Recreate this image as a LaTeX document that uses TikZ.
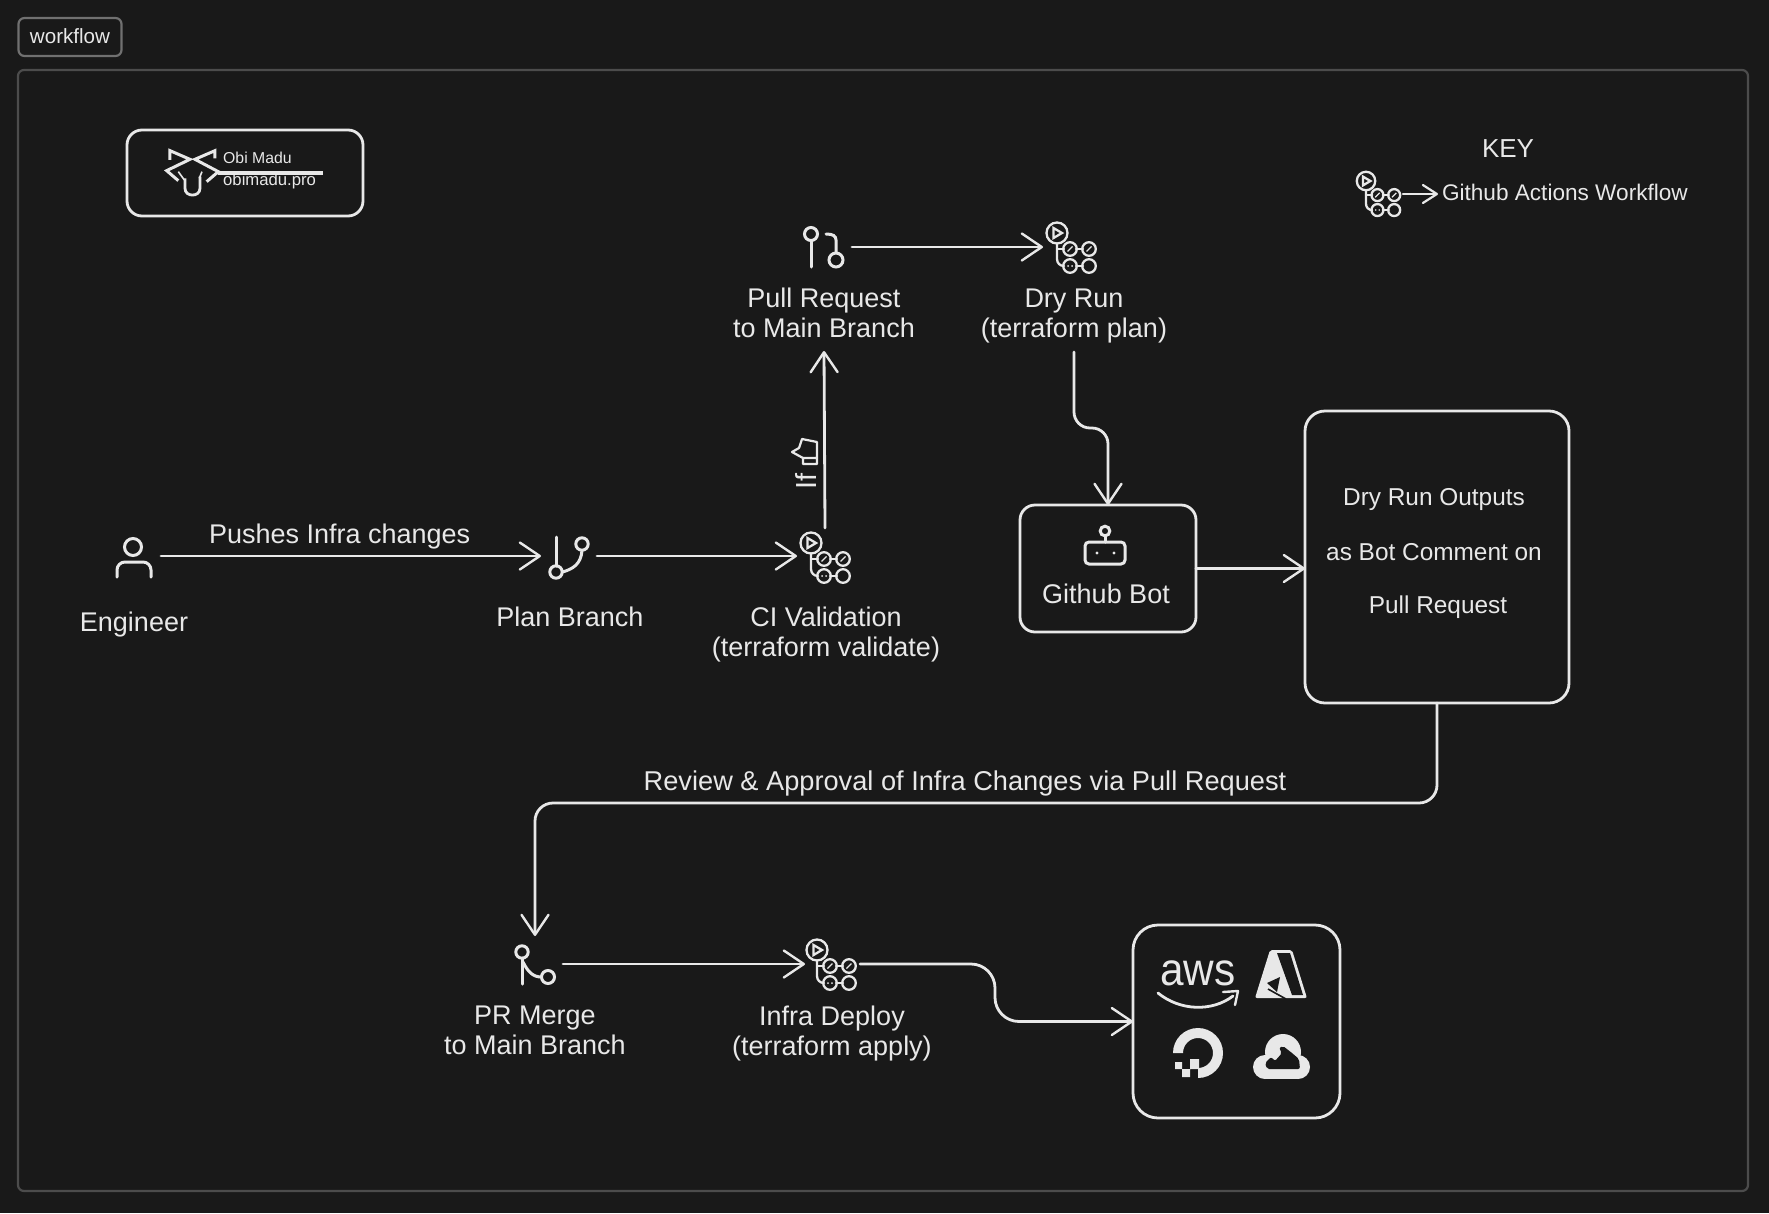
\documentclass[tikz,border=0pt]{standalone}
\usepackage{fontspec}
\setmainfont{Liberation Sans}
\usetikzlibrary{arrows.meta,calc}
\usetikzlibrary{positioning}
\definecolor{canvas}{HTML}{191919}
\definecolor{ink}{HTML}{E8E8E8}
\definecolor{badgeline}{HTML}{707070}
\definecolor{frameline}{HTML}{4C4C4C}
\tikzset{
>={Straight Barb[length=20pt,width=27pt,line width=2.4pt,round]}, % open hand drawn tip
flow/.style={->,ink,line width=2.8pt,line cap=round,line join=round},
iconspot/.style={inner sep=0pt,outer sep=0pt},
iconline/.style={ink,line width=3pt,line cap=round},
thinline/.style={ink,line width=2.3pt,line cap=round},
panel/.style={draw=ink,line width=2.8pt,rounded corners=15pt,inner sep=0pt,outer sep=0pt},
ghaicon/.pic={
  \draw[thinline] (0,0) circle (10.5);
  \draw[thinline] (-3.5,-5) -- (5,0) -- (-3.5,5) -- cycle;
  \draw[thinline] (0,10.5) -- (0,26) .. controls (0,30) and (3,33) .. (7,33);
  \draw[thinline] (0,16) -- (7,16);
  \draw[thinline] (19,16) -- (26,16);
  \draw[thinline] (19,33) -- (26,33);
  \foreach \spot in {(13,16),(32,16),(13,33),(32,33)}
    \draw[thinline] \spot circle (6.8);
  \draw[ink,line width=1.2pt] (10.5,18.5) -- (15.5,13.5);
  \draw[ink,line width=1.2pt] (29.5,18.5) -- (34.5,13.5);
  \fill[ink] (11,33) circle (1) (15,33) circle (1);
},
}
\tikzstyle{steplabel}=[text=ink,align=center,font=\fontsize{27}{30}\selectfont,inner sep=0pt,outer sep=0pt]
\tikzstyle{outputline}=[text=ink,font=\fontsize{24.4}{28}\selectfont,inner sep=0pt]

\begin{document}
\begin{tikzpicture}[x=1pt,y=-1pt]
  \useasboundingbox (0,0) rectangle (1769,1213);
  \fill[canvas] (0,0) rectangle (1769,1213);

  \node[draw=badgeline,line width=2.2pt,rounded corners=6pt,minimum width=103pt,minimum height=38pt,
    inner sep=0pt,text=ink,font=\fontsize{20.6}{24}\selectfont] (badge) at (70,37) {\raisebox{1.5pt}{workflow}};
  \node[draw=frameline,line width=2.2pt,rounded corners=6pt,minimum width=1730pt,minimum height=1121pt,
    inner sep=0pt] (frame) at (883,630.5) {};

  % logo
  \node[panel,minimum width=236pt,minimum height=86pt] (logobox) at (245,173) {};
  \begin{scope}[scale=0.3333]
    \draw[ink,line width=3pt] (510,480) -- (510,452) -- (570,478) -- (500,512) -- (535,542);
    \draw[ink,line width=3pt] (645,475) -- (645,452) -- (585,478) -- (655,515) -- (620,545);
    \draw[ink,line width=1.6pt] (535,515) -- (553,540);
    \draw[ink,line width=1.6pt] (606,515) -- (598,535);
    \draw[ink,line width=2.8pt] (555,535) -- (555,565) .. controls (555,592) and (600,592) .. (600,565) -- (600,530);
  \end{scope}
  \node[text=ink,anchor=west,inner sep=0pt,font=\fontsize{15.8}{20}\selectfont] (logoname) at (223,158) {Obi Madu};
  \node[text=ink,anchor=west,inner sep=0pt,font=\fontsize{16.7}{20}\selectfont] (logosite) at (223,181) {obimadu.pro};
  \coordinate (logorule) at (323,173);
  \draw[ink,line width=3.2pt] (218,173) -- (logorule);

  % key
  \node[text=ink,inner sep=0pt,font=\fontsize{26}{30}\selectfont] (keytitle) at (1508,149) {KEY};
  \node[iconspot,minimum width=36pt,minimum height=30pt] (keyicon) at (1385,194) {};
  \node[text=ink,anchor=west,inner sep=0pt,outer sep=0pt,font=\fontsize{22.6}{26}\selectfont] (keytext) at (1442,192) {Github Actions Workflow};
  \pic[scale=0.88] at (1366,181) {ghaicon};
  \coordinate (keyend) at (1438,194);
  \draw[->,ink,line width=2.8pt,line cap=round,>={Straight Barb[length=14pt,width=18pt,line width=2.2pt,round]}] (keyicon) -- (keyend);

  % icon spots, the connectors stop on their borders
  \node[iconspot,minimum width=56pt,minimum height=50pt] (engineer) at (133,556) {};
  \node[iconspot,minimum width=56pt,minimum height=50pt] (planbranch) at (569,556) {};
  \node[iconspot,minimum width=56pt,minimum height=56pt] (civalid) at (825,556) {};
  \node[iconspot,minimum width=56pt,minimum height=50pt] (pullreq) at (824,247) {};
  \node[iconspot,minimum width=56pt,minimum height=50pt] (dryrun) at (1071,247) {};
  \node[iconspot,minimum width=56pt,minimum height=56pt] (prmerge) at (535,964) {};
  \node[iconspot,minimum width=55pt,minimum height=50pt] (deploy) at (832.5,964) {};

  % labels
  \node[steplabel] (enginlabel) at (134,624.5) {Engineer};
  \node[steplabel] (planlabel) at (570,617) {Plan Branch};
  \node[steplabel] (cilabel) at (826,635) {CI Validation\\(terraform validate)};
  \node[steplabel,minimum height=76pt] (pulllabel) at (824,313) {Pull Request\\to Main Branch};
  \node[steplabel,minimum height=72pt] (drylabel) at (1074,316) {Dry Run\\(terraform plan)};
  \node[steplabel] (mergelabel) at (535,1030.5) {PR Merge\\to Main Branch};
  \node[steplabel] (deploylabel) at (832,1034) {Infra Deploy\\(terraform apply)};

  % boxes
  \node[panel,minimum width=176pt,minimum height=127pt] (ghbot) at (1108,568.5) {};
  \node[steplabel] (botlabel) at (1106,594) {Github Bot};
  \node[panel,rounded corners=20pt,minimum width=264pt,minimum height=292pt] (outputs) at (1437,557) {};
  \node[outputline] (outa) at (1434,500) {Dry Run Outputs};
  \node[outputline] (outb) at (1434,552) {as Bot Comment on};
  \node[outputline] (outc) at (1438,607) {Pull Request};
  \node[panel,rounded corners=25pt,minimum width=207pt,minimum height=193pt] (clouds) at (1236.5,1021.5) {};

  % connectors
  \coordinate (drybend) at (1090,428);
  \coordinate (reviewbend) at (964,803);
  \coordinate (deploybend) at (995,993);

  \draw[flow] (engineer) -- node[steplabel,pos=0.47,above=7pt] (pushlabel) {Pushes Infra changes} (planbranch);
  \draw[flow] (planbranch) -- (civalid);
  \draw[flow] (civalid.north) -- (pulllabel.south);
  \draw[flow] (pullreq) -- (dryrun);
  \draw[flow,rounded corners=16pt] (drylabel.south) -- (drylabel.south |- drybend) -- (ghbot.north |- drybend) -- (ghbot.north);
  \draw[flow] (ghbot.east) -- (ghbot.east -| outputs.west);
  \draw[flow,rounded corners=18pt] (outputs.south) |- (reviewbend) -| (prmerge.north);
  \node[steplabel,font=\fontsize{27.2}{30}\selectfont] (reviewlabel) at (965,783.5) {Review \& Approval of Infra Changes via Pull Request};
  \draw[flow] (prmerge) -- (deploy);
  \draw[flow,rounded corners=24pt] (deploy.east) -- (deploy.east -| deploybend) -- (deploybend |- clouds.west) -- (clouds.west);

  % if approved mark
  \node[text=ink,rotate=90,inner sep=0pt,font=\fontsize{29}{30}\selectfont] (iflabel) at (805.5,481) {If};
  \draw[ink,line width=2.2pt,line join=round] (817,442) -- (802,439) -- (799,448) -- (792,452) -- (803,458)
    -- (803,464) -- (817,464) -- cycle (803,458) -- (817,458);

  % icons
  \draw[iconline] (133,547) circle (8.5);
  \draw[iconline] (117,577) -- (117,570) arc[start angle=180,end angle=270,radius=8] -- (143,562)
    arc[start angle=270,end angle=360,radius=8] -- (151,577);

  \draw[iconline] (556,537) -- (556,566);
  \draw[iconline] (556,572) circle (6.2);
  \draw[iconline] (582,544) circle (6.2);
  \draw[iconline] (582,550.5) .. controls (581,564) and (573,569) .. (562.5,572);

  \pic at (811,543) {ghaicon};
  \pic at (1057,233) {ghaicon};
  \pic at (817,950) {ghaicon};

  \draw[iconline] (811,234) circle (6.5);
  \draw[iconline] (811,241) -- (811,267);
  \draw[iconline] (836,260) circle (7);
  \draw[iconline] (836,253) -- (836,240) .. controls (836,236) and (833,234) .. (826,234);

  \draw[iconline] (522,952) circle (6.2);
  \draw[iconline] (522,958) -- (522,984);
  \draw[iconline] (548,977) circle (6.5);
  \draw[iconline] (523,962) .. controls (528,972) and (533,977) .. (541.5,977);

  \draw[iconline,rounded corners=4pt] (1085,542) rectangle (1125,564);
  \draw[iconline] (1105,531) circle (4.8);
  \draw[iconline] (1105,536) -- (1105,542);
  \fill[ink] (1097,553) circle (1.7) (1114,553) circle (1.7);

  % provider logos
  \node[text=ink,inner sep=0pt,xscale=0.92,font=\fontsize{46}{50}\selectfont] (awsword) at (1198,973) {aws};
  \draw[ink,line width=2.8pt,line cap=round] (1158,993) .. controls (1180,1011) and (1212,1012) .. (1233,996);
  \draw[ink,line width=2.4pt,line cap=round,line join=round] (1223,992) -- (1238,991) -- (1235,1005);

  \fill[ink,rounded corners=2pt] (1270,950) -- (1292,950) -- (1307,998) -- (1255,998) -- cycle;
  \fill[canvas] (1277,953) -- (1290,953) -- (1303,995) -- (1292,995) -- cycle;
  \fill[canvas] (1267,983) -- (1280,977) -- (1277,992) -- cycle;
  \draw[canvas,line width=1.6pt] (1268,989) -- (1286,999);

  \fill[ink] (1173,1053) arc[start angle=180,end angle=450,radius=25]
    -- (1198,1068) arc[start angle=450,end angle=180,radius=15] -- cycle;
  \fill[ink] (1190,1059) rectangle (1199,1069) (1182,1069) rectangle (1190,1077) (1175,1062) rectangle (1182,1069);

  \fill[ink] (1265,1067) circle (12) (1283,1052) circle (18) (1298,1067) circle (12);
  \fill[ink] (1265,1060) rectangle (1298,1079);
  \fill[canvas,rounded corners=2pt] (1267,1069) -- (1265,1063) -- (1271,1057) -- (1275,1061) -- (1282,1053)
    -- (1279,1048) -- (1283,1046) -- (1292,1053) -- (1299,1059) -- (1300,1069) -- cycle;
\end{tikzpicture}
\end{document}
